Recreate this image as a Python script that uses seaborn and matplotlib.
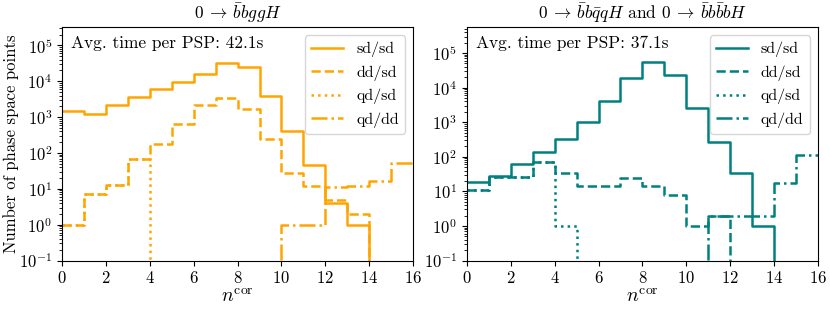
import numpy as np
import pandas as pd
import matplotlib
matplotlib.use("Agg")
import matplotlib.pyplot as plt
import seaborn as sns

# ---- data (per-bin counts, bins n_cor = 0..16) ----
bin_edges = list(range(17))
series_labels = ["sd/sd", "dd/sd", "qd/sd", "qd/dd"]

left_sd_sd = [1470, 1230, 2130, 3600, 5900, 9600, 16300, 31600, 24500, 3900, 410, 46, 4, 1, 0, 0]
left_dd_sd = [1, 7, 13, 70, 180, 650, 2150, 3500, 1650, 245, 28, 12, 5, 2, 0, 0]
left_qd_sd = [1, 7, 13, 70, 0, 0, 0, 0, 0, 0, 0, 0, 0, 0, 0, 0]
left_qd_dd = [0, 0, 0, 0, 0, 0, 0, 0, 0, 0, 1, 1, 11.5, 12, 17, 54]

right_sd_sd = [19, 27, 60, 140, 330, 1030, 4200, 18500, 55000, 23000, 2570, 260, 33, 1, 0, 0]
right_dd_sd = [11, 26, 26, 69, 33, 14, 14, 24, 14, 8, 1, 2, 0, 0, 0, 0]
right_qd_sd = [11, 26, 26, 69, 1, 0, 0, 0, 0, 0, 0, 0, 0, 0, 0, 0]
right_qd_dd = [0, 0, 0, 0, 0, 0, 0, 0, 0, 0, 0, 2, 2, 2, 17, 110]

titles = [r"$0 \:\to\: \bar{b}bggH$",
          r"$0 \:\to\: \bar{b}b\bar{q}qH$ and $0 \:\to\: \bar{b}b\bar{b}bH$"]
avg_times = ["Avg. time per PSP: 42.1s", "Avg. time per PSP: 37.1s"]
panel_colors = ["orange", "teal"]
xlabel = r"$n^{\rm cor}$"
ylabel = "Number of phase space points"
xticks = [0, 2, 4, 6, 8, 10, 12, 14, 16]

plt.rcParams.update({
    "font.family": "serif",
    "font.serif": ["cmr10", "DejaVu Serif"],
    "mathtext.fontset": "cm",
    "axes.formatter.use_mathtext": True,
    "axes.unicode_minus": False,
})

centers = [e + 0.5 for e in bin_edges[:-1]]

panels = [
    [left_sd_sd, left_dd_sd, left_qd_sd, left_qd_dd],
    [right_sd_sd, right_dd_sd, right_qd_sd, right_qd_dd],
]
styles = ["-", "--", ":", "-."]
zorders = [2.2, 2.1, 2.0, 2.3]

fig, axes = plt.subplots(1, 2, figsize=(8.3, 3.12), dpi=100)
fig.subplots_adjust(left=0.0747, right=0.9855, bottom=0.165, top=0.912, wspace=0.153)

for ax, series, title, txt, col in zip(axes, panels, titles, avg_times, panel_colors):
    for vals, lab, ls, zo in zip(series, series_labels, styles, zorders):
        df = pd.DataFrame({"ncor": centers, "count": [float(v) for v in vals]})
        sns.histplot(data=df, x="ncor", weights="count", bins=bin_edges,
                     element="step", fill=False, color=col, linestyle=ls,
                     linewidth=1.8, label=lab, ax=ax, zorder=zo)
    ax.set_yscale("log")
    ymax = max(max(v) for v in series)
    ax.set_ylim(0.1, 10 * ymax)
    ax.set_xlim(0, 16)
    ax.set_xticks(xticks)
    ax.set_xlabel(xlabel, fontsize=14, labelpad=1)
    ax.set_ylabel("")
    ax.set_title(title, fontsize=12.5)
    ax.tick_params(labelsize=12)
    ax.text(0.025, 0.965, txt, transform=ax.transAxes, va="top", ha="left", fontsize=12.5)
    ax.legend(loc="upper right", fontsize=11.5)

axes[0].set_ylabel(ylabel, fontsize=12, labelpad=0)

fig.savefig("out.png", dpi=100)
